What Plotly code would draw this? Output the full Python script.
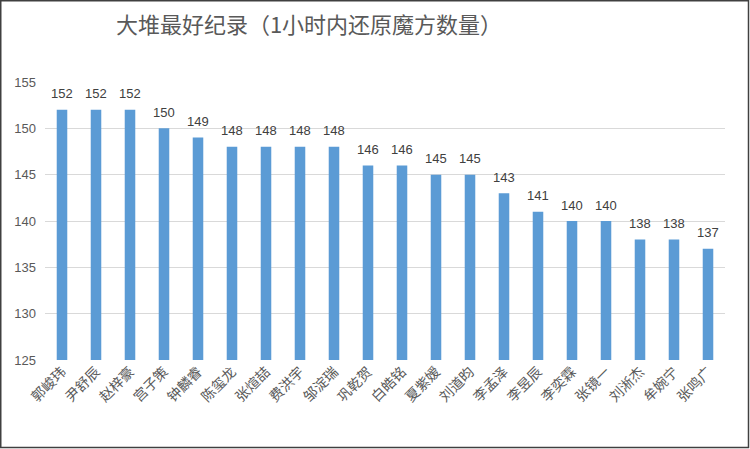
import plotly.graph_objects as go

names = ["郭峻玮", "尹舒辰", "赵梓豪", "宫子策", "钟麟睿", "陈玺龙", "张煊喆", "费洪宇", "邹淀瑞", "巩乾贺",
         "白皓铭", "夏紫嫒", "刘道昀", "李孟泽", "李昱辰", "李奕霖", "张镜一", "刘淅杰", "牟婉宁", "张鸣广"]
values = [152, 152, 152, 150, 149, 148, 148, 148, 148, 146,
          146, 145, 145, 143, 141, 140, 140, 138, 138, 137]
y_ticks = [125, 130, 135, 140, 145, 150, 155]
title = "大堆最好纪录（1小时内还原魔方数量）"

W, H = 750, 449
L, R, T, B = 45, 25, 82, 89
pw, ph = W - L - R, H - T - B

def px(x):
    return (x - L) / pw

def py(y):
    return (H - B - y) / ph

fig = go.Figure(go.Bar(
    x=names, y=values,
    marker=dict(color="#5B9BD5", line=dict(width=0)),
    width=0.31,
    hoverinfo="x+y",
))

annotations = [dict(x=n, y=v, xref="x", yref="y", text=str(v), showarrow=False,
                    yanchor="middle", yshift=16,
                    font=dict(family="Liberation Sans, Arial, sans-serif", size=13, color="#404040"))
               for n, v in zip(names, values)]

fig.update_layout(
    width=W, height=H,
    margin=dict(l=L, r=R, t=T, b=B, autoexpand=False),
    paper_bgcolor="white", plot_bgcolor="white",
    showlegend=False,
    title=dict(text=title, x=309 / W, xanchor="center", y=1 - 25 / H, yanchor="middle",
               font=dict(family="Noto Sans CJK SC", size=22, color="#595959")),
    xaxis=dict(tickangle=-45, showgrid=False, showline=False, ticks="",
               tickfont=dict(family="Noto Sans CJK SC", size=14, color="#595959")),
    yaxis=dict(range=[125, 155], tickvals=y_ticks, showgrid=True, gridcolor="#D9D9D9", gridwidth=1,
               zeroline=False, showline=False, ticks="", ticklabelstandoff=8,
               tickfont=dict(family="Liberation Sans, Arial, sans-serif", size=13, color="#595959")),
    annotations=annotations,
    shapes=[dict(type="rect", xref="paper", yref="paper",
                 x0=px(0.75), x1=px(748.5), y0=py(447.5), y1=py(0.75),
                 line=dict(color="#404040", width=1.5), fillcolor="rgba(0,0,0,0)", layer="above")],
)

fig.write_html("out.html", config={"displayModeBar": False},
               post_script="document.body.style.margin='0';document.body.style.padding='0';")

with open("out.html", "r", encoding="utf-8") as f:
    html = f.read()
html = html.replace("<head>", "<head><style>html,body{margin:0;padding:0;overflow:hidden;}</style>", 1)
with open("out.html", "w", encoding="utf-8") as f:
    f.write(html)
